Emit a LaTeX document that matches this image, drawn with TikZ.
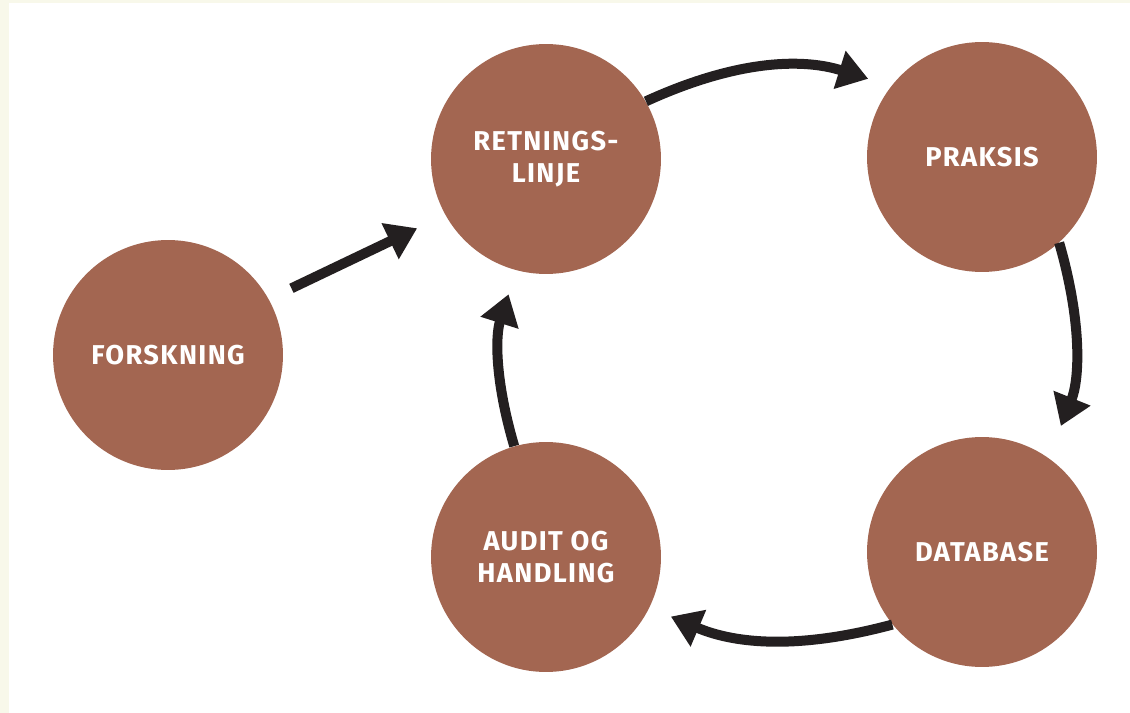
\documentclass[tikz,border=0pt]{standalone}
\usepackage{fontspec}
\setmainfont{Fira Sans}
\newfontfamily\labelfont[LetterSpace=5]{Fira Sans}
\usetikzlibrary{arrows.meta}
\definecolor{stepbrown}{RGB}{163,102,81}
\definecolor{arrowdark}{RGB}{35,31,32}
\definecolor{cream}{RGB}{248,248,234}

\begin{document}
\begin{tikzpicture}[x=0.02cm, y=-0.02cm,
		phase/.style={circle, fill=stepbrown, minimum size=4.6cm, inner sep=0pt,
			text=white, align=center, font=\labelfont\bfseries\fontsize{15.5}{18}\selectfont},
		flow/.style={draw=arrowdark, line width=0.2cm,
			-{Triangle[length=0.6cm, width=0.76cm]}}]
	
	%------------------------------------------------
	% Page
	%------------------------------------------------
	\useasboundingbox (0,0) rectangle (1130,713);
	\fill[cream] (0,0) rectangle (1130,713);
	\fill[white] (9,3) rectangle (1130,713);
	
	%------------------------------------------------
	% Phases
	%------------------------------------------------
	\node[phase] (forskning) at (168,355) {FORSKNING};
	\node[phase] (retning)   at (546,159) {RETNINGS-\\LINJE};
	\node[phase] (praksis)   at (982,157) {PRAKSIS};
	\node[phase] (database)  at (982,552) {DATABASE};
	\node[phase] (audit)     at (546,557) {AUDIT OG\\HANDLING};
	
	%------------------------------------------------
	% Cycle
	%------------------------------------------------
	\draw[flow, shorten <=0.5cm, shorten >=0.62cm] (forskning.29) -- (retning.209);
	\draw[flow, shorten >=0.48cm] (retning.30) to[bend left=21] (praksis.142);
	\draw[flow, shorten >=0.68cm] (praksis.-48) to[bend left=19] (database.55);
	\draw[flow, shorten >=0.46cm] (database.219) to[bend left=19] (audit.-26);
	\draw[flow, shorten >=0.5cm] (audit.106) to[bend left=17] (retning.255);
	
\end{tikzpicture}
\end{document}
